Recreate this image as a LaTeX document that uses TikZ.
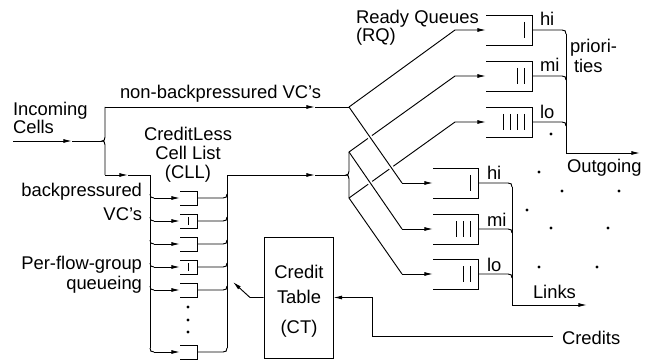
\documentclass[tikz,border=0pt]{standalone}
\usepackage{fontspec}
\setmainfont{Liberation Sans}
\usetikzlibrary{arrows.meta,calc}
\begin{document}
\begin{tikzpicture}[x=0.75pt,y=-0.75pt,line width=0.7pt,
  lbl/.style={font=\fontsize{13.8}{16}\selectfont,inner sep=0pt,outer sep=0pt},
  tip/.style={-{Latex[length=6.5pt,width=3pt]}},
  qn/.style={draw=none,inner sep=0pt,outer sep=0pt},
  gap/.style={preaction={draw=white,line width=3.5pt,shorten <=5pt,shorten >=5pt}},
  dot/.style={circle,fill,inner sep=0pt,minimum size=2.4pt},
  ctbox/.style={draw,inner sep=0pt,minimum width=51.75pt,minimum height=90.75pt}]
\useasboundingbox (0,0) rectangle (647,360);
\newcommand\mkbracket[1]{\draw (#1.north west) -- (#1.north east) -- (#1.south east) -- (#1.south west);}
\newcommand\mkbars[2]{\foreach \k in {1,...,#2}{\draw ($(#1.east)+({-1-7*\k},-8)$) -- ($(#1.east)+({-1-7*\k},8)$);}}

% ---------- labels ----------
\node[lbl,anchor=base west] (tIn) at (13,116) {Incoming};
\node[lbl,anchor=base west] (tCells) at (13,134) {Cells};
\node[lbl,anchor=base west] (tNB) at (120,99) {non-backpressured VC’s};
\node[lbl,anchor=base] (tCL1) at (188,141) {CreditLess};
\node[lbl,anchor=base] (tCL2) at (188,160) {Cell List};
\node[lbl,anchor=base] (tCL3) at (188,179) {(CLL)};
\node[lbl,anchor=base east] (tBP1) at (142,196) {backpressured};
\node[lbl,anchor=base east] (tBP2) at (142,220) {VC’s};
\node[lbl,anchor=base east] (tPF1) at (142,269) {Per-flow-group};
\node[lbl,anchor=base east] (tPF2) at (142,289) {queueing};
\node[lbl,anchor=base west] (tRQ1) at (356,24) {Ready Queues};
\node[lbl,anchor=base west] (tRQ2) at (356,42) {(RQ)};
\node[lbl,anchor=base west] (tHi1) at (540,26) {hi};
\node[lbl,anchor=base west] (tMi1) at (540,72) {mi};
\node[lbl,anchor=base west] (tLo1) at (540,118) {lo};
\node[lbl,anchor=base west] (tPr1) at (570,53) {priori-};
\node[lbl,anchor=base west] (tPr2) at (574,73) {ties};
\node[lbl,anchor=base west] (tOut) at (567,173) {Outgoing};
\node[lbl,anchor=base west] (tHi2) at (487,180) {hi};
\node[lbl,anchor=base west] (tMi2) at (487,226) {mi};
\node[lbl,anchor=base west] (tLo2) at (487,271) {lo};
\node[lbl,anchor=base west] (tLinks) at (533,298) {Links};
\node[lbl,anchor=base west] (tCred) at (562,344) {Credits};

% ---------- credit table ----------
\node[ctbox] (ct) at (298.5,297.5) {};
\node[lbl,anchor=base] (tCT1) at (299,278) {Credit};
\node[lbl,anchor=base] (tCT2) at (299,303) {Table};
\node[lbl,anchor=base] (tCT3) at (299,333) {(CT)};

% ---------- queues ----------
\foreach \n/\y in {q1/198,q2/221,q3/244,q4/267,q5/290,q6/352}
  {\node[qn,minimum width=12.75pt,minimum height=10.5pt] (\n) at (188.5,\y) {};}
\foreach \n in {q1,q2,q3,q4,q5,q6}{\mkbracket{\n}}
\foreach \n in {q2,q4}{\draw ($(\n.center)+(0,-4)$) -- ($(\n.center)+(0,4)$);}
\foreach \n/\y in {rq1/30,rq2/76,rq3/122}
  {\node[qn,minimum width=34.5pt,minimum height=22.5pt] (\n) at (509,\y) {};}
\foreach \n/\y in {lq1/183,lq2/229,lq3/274}
  {\node[qn,minimum width=33.75pt,minimum height=22.5pt] (\n) at (455.5,\y) {};}
\foreach \n in {rq1,rq2,rq3,lq1,lq2,lq3}{\mkbracket{\n}}
\mkbars{rq1}{1}\mkbars{rq2}{2}\mkbars{rq3}{4}
\mkbars{lq1}{1}\mkbars{lq2}{3}\mkbars{lq3}{2}

% dots
\foreach \p in {(188,307),(188,320),(188,332),(551,134),(539,172),(562,191),(619,191),(527,210),(551,228),(608,228),(539,267),(597,267)}
  {\node[dot] at \p {};}

% ---------- input side ----------
\coordinate (src) at (13,141);
\coordinate (a1) at (72,141);
\coordinate (j1) at (102,141);
\coordinate (b1t) at (105,107);
\coordinate (b1b) at (105,175);
\draw[tip] (src) -- (a1);
\draw (a1) -- (j1);
\draw (b1t) -- (105,137) .. controls (105,140) and (104,141) .. (j1)
      .. controls (104,141) and (105,142) .. (105,145) -- (b1b);
\coordinate (a2) at (315,107);
\coordinate (m1) at (349,107);
\draw[tip] (b1t) -- (a2);
\draw (a2) -- (m1);
\coordinate (a3) at (128,175);
\coordinate (lb) at (150,175);
\draw[tip] (b1b) -- (a3);
\draw (a3) -- (lb) -- (150,348);
% left bus branches
\foreach \n/\y in {q1/198,q2/221,q3/244,q4/267,q5/290}{
  \draw (150,\y-4) .. controls (150,\y-1) and (151,\y) .. (154,\y);
  \draw[tip] (154,\y) -- (\n.west);}
\draw (150,348) .. controls (150,351) and (151,352) .. (154,352);
\draw[tip] (154,352) -- (q6.west);
% right bus
\coordinate (rb) at (227,175);
\foreach \n/\y in {q1/198,q2/221,q3/244,q4/267,q5/290,q6/352}{
  \draw (\n.east) -- (223,\y) .. controls (226,\y) and (227,\y-1) .. (227,\y-4);}
\draw (227,348) -- (rb);
\coordinate (a4) at (315,175);
\coordinate (j2) at (346,175);
\draw[tip] (rb) -- (a4);
\draw (a4) -- (j2);
\coordinate (m2) at (349,152);
\coordinate (m3) at (349,198);
\draw (m2) -- (349,171) .. controls (349,174) and (348,175) .. (j2)
      .. controls (348,175) and (349,176) .. (349,179) -- (m3);

% ---------- switching diagonals ----------
\coordinate (u1) at (455,30);
\coordinate (u2) at (455,76);
\coordinate (u3) at (455,122);
\coordinate (d1) at (402,183);
\coordinate (d2) at (402,229);
\coordinate (d3) at (402,274);
\draw[tip] (m1) -- (u1) -- (rq1.west);
\draw[tip] (m2) -- (u2) -- (rq2.west);
\draw[tip] (m3) -- (u3) -- (rq3.west);
\draw[gap] (m1) -- (d1);
\draw[gap] (m2) -- (d2);
\draw[gap] (m3) -- (d3);
\draw[tip] (d1) -- (lq1.west);
\draw[tip] (d2) -- (lq2.west);
\draw[tip] (d3) -- (lq3.west);

% ---------- outputs ----------
\coordinate (oc) at (566,153);
\coordinate (oe) at (640,153);
\foreach \n/\y in {rq1/30,rq2/76,rq3/122}{
  \draw (\n.east) -- (562,\y) .. controls (565,\y) and (566,\y+1) .. (566,\y+4);}
\draw[tip] (566,34) -- (oc) -- (oe);
\coordinate (lc) at (512,305);
\coordinate (le) at (587,305);
\foreach \n/\y in {lq1/183,lq2/229,lq3/274}{
  \draw (\n.east) -- (508,\y) .. controls (511,\y) and (512,\y+1) .. (512,\y+4);}
\draw[tip] (512,187) -- (lc) -- (le);

% ---------- credits ----------
\coordinate (cs) at (553,336);
\coordinate (cb) at (372,336);
\coordinate (ca) at (372,297.5);
\draw[tip] (cs) -- (cb) -- (ca) -- (ct.east);
\coordinate (ck) at (250,297.5);
\coordinate (ctip) at (233,282);
\draw[tip] (ct.west) -- (ck) -- (ctip);
\end{tikzpicture}
\end{document}
